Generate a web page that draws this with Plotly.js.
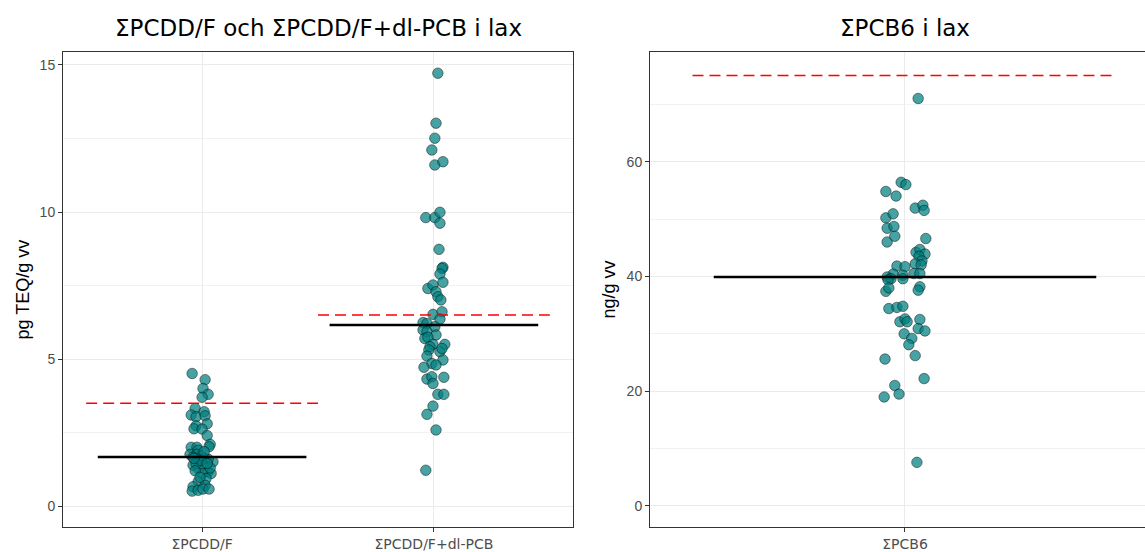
<!DOCTYPE html>
<html>
<head>
<meta charset="utf-8">
<script src="https://cdn.plot.ly/plotly-3.0.1.min.js"></script>
<style>html,body{margin:0;padding:0;background:#fff;}#chart{width:1145px;height:552px;}</style>
</head>
<body>
<div id="chart"></div>
<script>
// ---- Data ----
const leftCategories = ["ΣPCDD/F", "ΣPCDD/F+dl-PCB"];
const rightCategories = ["ΣPCB6"];

// ΣPCDD/F (pg TEQ/g vv)
const pcddfValues = [4.51,4.30,4.00,3.80,3.70,3.32,3.10,3.04,3.21,3.07,2.80,2.73,2.63,2.62,2.40,2.10,2.02,2.00,2.00,1.90,1.76,1.76,1.71,1.66,1.62,1.51,1.58,1.60,1.39,1.28,1.39,1.17,1.11,1.11,1.45,0.94,0.83,0.71,0.66,0.51,0.54,0.58,0.58,1.20,1.55,1.30,0.98,1.45,1.62,1.85];
const pcddfJitter = [-0.043,0.013,0.004,0.026,0,-0.030,-0.047,-0.026,0.009,0.013,0.022,-0.026,-0.035,0,0.022,0.035,0.030,-0.047,-0.022,-0.017,-0.052,-0.022,0,-0.039,0.013,0.047,-0.013,0.026,-0.039,-0.017,0.004,0.026,0.039,0,-0.026,0.017,-0.017,0.013,-0.039,-0.043,-0.017,0.004,0.030,-0.030,-0.004,0.035,-0.009,0.022,-0.035,0.009];

// ΣPCDD/F+dl-PCB (pg TEQ/g vv)
const pcddfDlValues = [14.72,13.02,12.51,12.11,11.60,11.71,9.81,9.81,9.99,9.62,8.73,8.12,8.08,7.89,7.61,7.40,7.52,7.29,7.12,7.01,6.52,6.61,6.36,6.24,6.21,6.10,5.99,5.93,5.82,5.70,5.74,5.50,5.50,5.42,5.31,5.25,5.36,5.10,4.97,4.85,4.80,4.72,4.38,4.32,4.40,4.17,3.80,3.80,3.40,3.12,2.59,1.22];
const pcddfDlJitter = [0.017,0.009,0.004,-0.009,0.004,0.039,-0.035,0.004,0.026,0.026,0.022,0.039,0.035,0.026,0.039,-0.026,-0.004,0.009,0.017,0.030,-0.004,0.035,0.026,-0.047,-0.030,0.004,-0.047,-0.030,0.009,-0.039,-0.026,0.047,-0.004,-0.017,-0.022,0.026,0.035,-0.030,0.039,-0.009,0.009,-0.043,0.043,-0.030,-0.009,-0.004,0.017,0.043,-0.004,-0.030,0.009,-0.035];

// ΣPCB6 (ng/g vv)
const pcb6Values = [71.0,56.4,56.0,54.8,54.0,51.9,52.4,51.5,50.2,50.9,48.4,48.7,46.0,47.0,46.6,44.2,44.7,43.9,43.5,42.7,42.2,42.0,41.8,41.7,40.4,39.9,40.2,40.5,40.5,39.6,39.6,39.4,38.2,37.6,37.4,38.0,34.4,34.6,34.8,32.1,32.6,32.1,32.5,30.9,30.5,30.0,29.2,28.1,25.6,26.2,22.2,21.0,19.5,19.0,7.6];
const pcb6Jitter = [0.031,-0.009,0.002,-0.045,-0.021,0.024,0.042,0.045,-0.045,-0.028,-0.042,-0.026,-0.042,-0.024,0.049,0.026,0.035,0.047,0.033,0.040,0.024,0.038,-0.019,0,-0.028,-0.042,-0.005,0.021,0.035,-0.033,-0.005,-0.040,0.035,0.031,-0.045,-0.038,-0.038,-0.019,-0.005,-0.012,0,0.005,0.035,0.031,0.047,-0.002,0.016,0.009,-0.047,0.024,0.045,-0.024,-0.014,-0.049,0.028];

// Reference levels
const leftMedians = [1.67, 6.16];
const leftLimits = [3.5, 6.5];
const rightMedians = [39.9];
const rightLimits = [75];

// ---- Styling ----
const markerStyle = {size: 10.5, color: 'rgba(0,128,128,0.72)', line: {color: 'rgba(0,0,0,0.75)', width: 0.6}};
const font = 'Liberation Sans, Arial, sans-serif';
const wideFont = 'DejaVu Sans, Verdana, sans-serif';

function pts(values, jitter, cat, xa, ya) {
  return {type: 'scatter', mode: 'markers', x: values.map((v, i) => cat + jitter[i]), y: values,
    xaxis: xa, yaxis: ya, marker: markerStyle, hoverinfo: 'y', showlegend: false};
}
function hline(cat, val, half, xa, ya, style) {
  return {type: 'scatter', mode: 'lines', x: [cat - half, cat + half], y: [val, val],
    xaxis: xa, yaxis: ya, line: style, hoverinfo: 'skip', showlegend: false};
}
const medStyle = {color: '#000000', width: 2.4};
const limStyle = {color: '#FF0000', width: 1.6, dash: '11px,6px'};

const traces = [
  pts(pcddfValues, pcddfJitter, 0, 'x', 'y'),
  pts(pcddfDlValues, pcddfDlJitter, 1, 'x', 'y'),
  pts(pcb6Values, pcb6Jitter, 1, 'x2', 'y2')
];
leftMedians.forEach((m, i) => traces.push(hline(i, m, 0.45, 'x', 'y', medStyle)));
leftLimits.forEach((m, i) => traces.push(hline(i, m, 0.5, 'x', 'y', limStyle)));
rightMedians.forEach((m, i) => traces.push(hline(i + 1, m, 0.45, 'x2', 'y2', medStyle)));
rightLimits.forEach((m, i) => traces.push(hline(i + 1, m, 0.5, 'x2', 'y2', limStyle)));

const axisCommon = {
  showline: true, linecolor: '#333333', linewidth: 1,
  ticks: 'outside', ticklen: 4, tickcolor: '#333333', tickwidth: 1,
  tickfont: {family: font, size: 14, color: '#4D4D4D'},
  showgrid: true, gridcolor: '#EBEBEB', gridwidth: 1, zeroline: false, fixedrange: true
};
const xTickFont = {family: wideFont, size: 14, color: '#4D4D4D'};

const layout = {
  width: 1145, height: 552,
  margin: {l: 63, r: 0, t: 52, b: 25},
  paper_bgcolor: '#FFFFFF', plot_bgcolor: '#FFFFFF',
  font: {family: font},
  showlegend: false,
  xaxis: Object.assign({}, axisCommon, {domain: [0, 0.47135], range: [-0.6, 1.6], mirror: true,
    tickvals: [0, 1], ticktext: leftCategories, anchor: 'y', tickfont: xTickFont}),
  yaxis: Object.assign({}, axisCommon, {range: [-0.71, 15.44], mirror: true, tickvals: [0, 5, 10, 15], anchor: 'x',
    minor: {tickvals: [2.5, 7.5, 12.5], showgrid: true, gridcolor: '#F2F2F2', gridwidth: 1, ticks: ''}}),
  xaxis2: Object.assign({}, axisCommon, {domain: [0.54251, 1], range: [0.4, 1.5647], mirror: true,
    tickvals: [1], ticktext: rightCategories, anchor: 'y2', tickfont: xTickFont}),
  yaxis2: Object.assign({}, axisCommon, {range: [-3.66, 79.1], mirror: false, tickvals: [0, 20, 40, 60], anchor: 'x2',
    minor: {tickvals: [10, 30, 50, 70], showgrid: true, gridcolor: '#F2F2F2', gridwidth: 1, ticks: ''}}),
  annotations: [
    {text: 'ΣPCDD/F och ΣPCDD/F+dl-PCB i lax', xref: 'x domain', x: 0.5, yref: 'paper', y: 1, yanchor: 'bottom', yshift: 9,
     showarrow: false, font: {family: wideFont, size: 23, color: '#000000'}},
    {text: 'ΣPCB6 i lax', xref: 'x2', x: 1, yref: 'paper', y: 1, yanchor: 'bottom', yshift: 9,
     showarrow: false, font: {family: wideFont, size: 23, color: '#000000'}},
    {text: 'pg TEQ/g vv', xref: 'x domain', x: 0, xshift: -53, yref: 'y domain', y: 0.5, textangle: -90,
     showarrow: false, font: {family: font, size: 18, color: '#000000'}},
    {text: 'ng/g vv', xref: 'x2 domain', x: 0, xshift: -53, yref: 'y2 domain', y: 0.5, textangle: -90,
     showarrow: false, font: {family: font, size: 18, color: '#000000'}}
  ]
};

Plotly.newPlot('chart', traces, layout, {displayModeBar: false, staticPlot: true});
</script>
</body>
</html>
